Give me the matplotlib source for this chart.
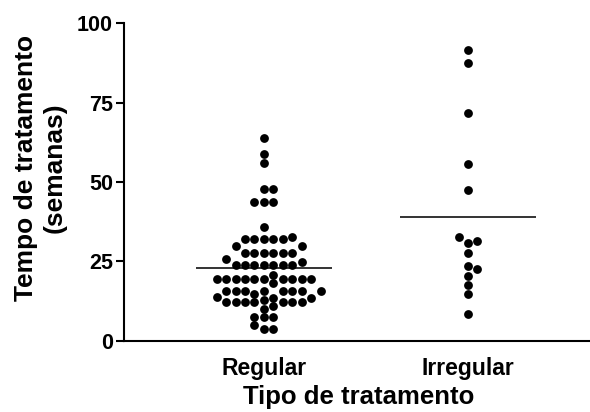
import numpy as np
import matplotlib
matplotlib.use("Agg")
import matplotlib.pyplot as plt

plt.rcParams['font.family'] = ['Liberation Sans', 'DejaVu Sans']

#===================================================
# data (weeks of treatment)
groups = ['Regular', 'Irregular']
regular_weeks = [63.8, 58.7, 55.9, 47.8, 47.8, 43.8, 43.8, 43.8, 35.7, 32.8,
                 31.9, 31.9, 31.9, 31.9, 31.9, 29.8, 29.8,
                 27.7, 27.7, 27.7, 27.7, 27.7, 27.7, 25.6, 24.8,
                 23.9, 23.9, 23.9, 23.9, 23.9, 23.9, 23.9, 20.8,
                 19.5, 19.5, 19.5, 19.5, 19.5, 19.5, 19.5, 19.5, 19.5, 19.5, 18.2,
                 15.8, 15.8, 15.8, 15.8, 15.8, 15.8, 15.8, 15.8, 14.7, 13.7,
                 13.6, 13.6, 12.9, 12.2, 12.2, 12.2, 12.2, 12.2, 12.2, 12.2,
                 10.9, 10.0, 7.5, 7.5, 7.5, 5.0, 3.8, 3.8]
irregular_weeks = [91.6, 87.6, 71.6, 55.6, 47.5, 32.6, 31.5, 30.7, 27.5,
                   23.6, 22.6, 20.5, 17.5, 14.6, 8.4]

#===================================================
# simple column layout, a bit like prism's scatter dot plot
def dot_columns(vals, min_gap=2.5):
    vals = np.asarray(vals, dtype=float)
    cols = np.zeros(len(vals))
    top = {}
    for i in np.argsort(vals, kind='stable'):
        k = 0
        while True:
            if k == 0:
                c = 0
            elif k % 2:
                c = (k + 1) // 2
            else:
                c = -(k // 2)
            if c not in top or vals[i] - top[c] >= min_gap:
                top[c] = vals[i]
                cols[i] = c
                break
            k += 1
    return cols

fig = plt.figure(figsize=(5.9, 4.12), dpi=100)
ax = fig.add_axes([124/590., 71.3/412., 470/590., 317.4/412.])

step = 0.0463
half = 0.334
for pos, vals in zip([1, 2], [regular_weeks, irregular_weeks]):
    xs = pos + dot_columns(vals) * step
    ax.scatter(xs, vals, s=40, color='black', linewidths=0, zorder=3, clip_on=False)
    ax.hlines(np.mean(vals), pos - half, pos + half, color='#333333', lw=1.4, zorder=2)

ax.set_xlim(0.3145, 2.6175)
ax.set_ylim(0, 100)
ax.set_yticks([0, 25, 50, 75, 100])
ax.set_xticks([1, 2])
ax.set_xticklabels(groups, fontsize=16.5, fontweight='bold')
for lab in ax.get_yticklabels():
    lab.set_fontsize(15.5)
    lab.set_fontweight('bold')
ax.tick_params(axis='y', length=6, width=1.5, pad=2)
ax.tick_params(axis='x', length=0, pad=12)
for s in ['top', 'right']:
    ax.spines[s].set_visible(False)
for s in ['left', 'bottom']:
    ax.spines[s].set_linewidth(1.5)

ax.set_xlabel('Tipo de tratamento', fontsize=18.5, fontweight='bold', labelpad=3)
fig.text(40/590., 1 - 168/412., 'Tempo de tratamento\n(semanas)', rotation=90,
         ha='center', va='center', multialignment='center', fontsize=19,
         fontweight='bold', linespacing=1.25)

plt.savefig('out.png', dpi=100)
